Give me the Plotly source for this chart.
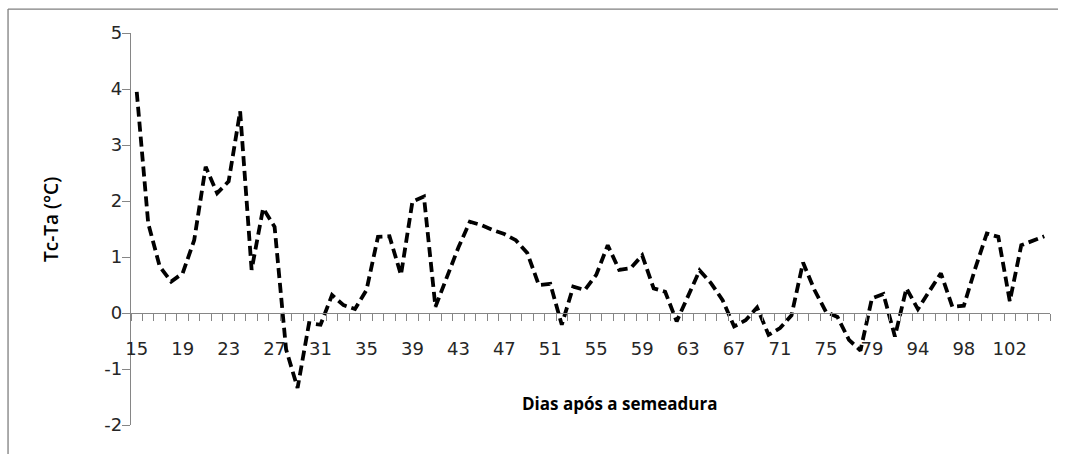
import plotly.graph_objects as go

# Days after sowing (category axis); labels shown every 4th category
days = [str(d) for d in range(15, 80)] + ["83", "87", "91"] + [str(d) for d in range(94, 106)]

tc_ta = [3.95, 1.60, 0.83, 0.56, 0.71, 1.30, 2.61, 2.14, 2.35, 3.60,
         0.77, 1.87, 1.54, -0.65, -1.34, -0.18, -0.21, 0.32, 0.14, 0.07,
         0.41, 1.36, 1.37, 0.68, 1.99, 2.08, 0.11, 0.64, 1.17, 1.63,
         1.57, 1.48, 1.41, 1.30, 1.07, 0.50, 0.52, -0.21, 0.47, 0.41,
         0.68, 1.21, 0.77, 0.80, 1.03, 0.44, 0.38, -0.15, 0.30, 0.76,
         0.53, 0.23, -0.24, -0.13, 0.10, -0.39, -0.27, -0.04, 0.90, 0.41,
         0.02, -0.07, -0.48, -0.67, 0.26, 0.34, -0.42, 0.44, 0.07, 0.40,
         0.71, 0.11, 0.13, 0.80, 1.42, 1.36, 0.21, 1.21, 1.29, 1.37]

tick_labels = days[::4]
y_ticks = [-2, -1, 0, 1, 2, 3, 4, 5]
y_tick_text = [str(v) for v in y_ticks]

y_min, y_max = -2, 5
zero_pos = (0 - y_min) / (y_max - y_min)

AXIS = "#868686"
TXT = "#262626"
TICKFONT = dict(family="DejaVu Sans", size=18, color=TXT)

fig = go.Figure()
fig.add_trace(go.Scatter(
    x=days, y=tc_ta, mode="lines",
    line=dict(color="black", width=3.8, dash="10px,5px"),
    showlegend=False, hoverinfo="x+y"))
# invisible helper trace for the tick-mark axis
fig.add_trace(go.Scatter(
    x=days, y=tc_ta, mode="lines", xaxis="x2",
    line=dict(width=0), opacity=0, showlegend=False, hoverinfo="skip"))

fig.update_layout(
    width=1070, height=454,
    margin=dict(l=131, r=20, t=33, b=29),
    paper_bgcolor="white", plot_bgcolor="white",
    xaxis=dict(
        type="category", categoryorder="array", categoryarray=days,
        range=[-0.5, len(days) - 0.5],
        tickmode="array", tickvals=tick_labels, ticktext=tick_labels,
        ticks="outside", ticklen=19, tickcolor="rgba(0,0,0,0)",
        tickfont=TICKFONT,
        showline=True, linecolor=AXIS, linewidth=1.3,
        showgrid=False, zeroline=False,
        anchor="free", position=zero_pos),
    xaxis2=dict(
        type="category", categoryorder="array", categoryarray=days,
        range=[-0.5, len(days) - 0.5],
        overlaying="x", tickmode="linear", dtick=1, tickson="boundaries",
        ticks="outside", ticklen=7, tickcolor=AXIS, tickwidth=1.3,
        showticklabels=False, showline=False, showgrid=False, zeroline=False,
        anchor="free", position=zero_pos),
    yaxis=dict(
        range=[y_min, y_max], tickmode="array", tickvals=y_ticks,
        ticktext=y_tick_text,
        ticks="outside", ticklen=8, tickcolor=AXIS, tickwidth=1.3,
        ticklabelstandoff=-4,
        tickfont=TICKFONT,
        showline=True, linecolor=AXIS, linewidth=1.3,
        showgrid=False, zeroline=False),
    annotations=[
        dict(text="Dias após a semeadura", xref="paper", yref="paper",
             x=0.532, y=0.055, xanchor="center", yanchor="middle",
             showarrow=False,
             font=dict(family="Open Sans", size=17, color="black", weight="bold")),
        dict(text="Tc-Ta (°C)", xref="paper", yref="paper",
             x=-0.087, y=0.523, xanchor="center", yanchor="middle",
             textangle=-90, showarrow=False,
             font=dict(family="Open Sans", size=19, color="black", weight=600)),
    ],
    shapes=[
        dict(type="line", xref="paper", yref="paper",
             x0=-0.1338, x1=1.0087, y0=1.061, y1=1.061,
             line=dict(color="#7f7f7f", width=1.3), layer="below"),
        dict(type="line", xref="paper", yref="paper",
             x0=-0.1338, x1=-0.1338, y0=-0.1, y1=1.061,
             line=dict(color="#7f7f7f", width=1.3), layer="below"),
    ],
)

fig.write_html("out.html", config={"displayModeBar": False},
               post_script="document.body.style.margin='0px';document.body.style.overflow='hidden';")
